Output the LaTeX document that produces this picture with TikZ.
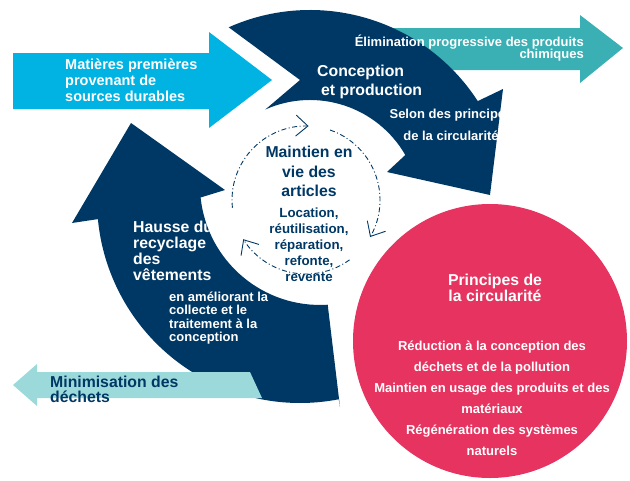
\documentclass[tikz,border=0pt]{standalone}
\usepackage{fontspec}
\setmainfont{Liberation Sans}
\usepackage{tikz}
\usetikzlibrary{arrows.meta}
\definecolor{navy}{HTML}{003865}
\definecolor{skyblue}{HTML}{00B3E3}
\definecolor{elimteal}{HTML}{3AB0B4}
\definecolor{paleteal}{HTML}{9CD9DA}
\definecolor{rose}{HTML}{E6335F}
\newcommand{\fsz}[2]{\fontsize{#1}{#2}\selectfont\bfseries}
\tikzstyle{band}=[fill=navy]
\tikzstyle{lbl}=[inner sep=0pt, text=white]
\tikzstyle{darklbl}=[inner sep=0pt, text=navy]
\tikzstyle{cycarrow}=[navy, line width=0.9pt, dash pattern=on 5pt off 2.5pt on 1pt off 2.5pt, -{Straight Barb[length=12pt,width=21pt,line width=0.9pt]}]

\begin{document}
\begin{tikzpicture}[x=1pt, y=-1pt]
    \useasboundingbox (0,0) rectangle (630,480);

    \fill[skyblue] (13,53) -- (209,53) -- (209,32) -- (272,80) -- (209,128) -- (209,109) -- (13,109) -- cycle;
    \fill[elimteal] (380,28) -- (580,28) -- (580,15) -- (623,48) -- (580,83) -- (580,70) -- (380,70) -- cycle;

    \fill[band] (228.7,27.3) arc[start angle=-114, end angle=-33, radius=200] -- (503,89) -- (490,195) -- (387,172) -- (405.3,155) arc[start angle=-30, end angle=-114, radius=110] -- (300,80) -- cycle;
    \fill[band] (327.7,304.7) arc[start angle=86.3, end angle=174, radius=120] -- (225,190) -- (131,123) -- (72,223) -- (97.9,219.1) arc[start angle=174.6, end angle=79, radius=203] -- (340,407) -- cycle;

    \fill[paleteal] (13,385) -- (37,364) -- (37,372) -- (250,372) -- (262,398) -- (37,398) -- (37,406) -- cycle;
    \node[circle, fill=rose, inner sep=0pt, minimum size=274pt] (circ) at (490,341) {};

    \coordinate (hub) at (306,200);
    \draw[cycarrow] (hub) ++(-186:74) arc[start angle=-186, end angle=-88, radius=74];
    \draw[cycarrow] (hub) ++(-71:74) arc[start angle=-71, end angle=30, radius=74];
    \draw[cycarrow] (hub) ++(54:74) arc[start angle=54, end angle=148, radius=74];

    \node[lbl, anchor=west, align=left, font=\fsz{14.5}{16}] (raw) at (65,80) {Matières premières\\provenant de\\sources durables};
    \node[lbl, anchor=east, align=right, font=\fsz{13}{12.5}] (elim) at (584,48) {Élimination progressive des produits\\chimiques};
    \node[lbl, anchor=west, align=left, font=\fsz{15.8}{19}] (design) at (317,81.5) {Conception\\\hspace{4pt}et production};
    \node[lbl, align=center, font=\fsz{13}{22}] (rule) at (451,125) {Selon des principes\\de la circularité};
    \node[darklbl, align=center, font=\fsz{15.8}{19.5}] (keep) at (309,171.5) {Maintien en\\vie des\\articles};
    \node[darklbl, align=center, font=\fsz{13.3}{16}] (ways) at (309,245) {Location,\\réutilisation,\\réparation,\\refonte,\\revente};
    \node[lbl, anchor=west, align=left, font=\fsz{15.8}{16}] (recyc) at (133,251) {Hausse du\\recyclage\\des\\vêtements};
    \node[lbl, anchor=west, align=left, font=\fsz{13}{13.3}] (collect) at (169,318) {en améliorant la\\collecte et le\\traitement à la\\conception};
    \node[darklbl, anchor=west, align=left, font=\fsz{15.8}{15}] (waste) at (50,389.5) {Minimisation des\\déchets};
    \node[lbl, align=center, font=\fsz{15.8}{16}] (princ) at (495,288) {Principes de\\la circularité};
    \node[lbl, align=center, font=\fsz{13}{21}] (list) at (492,398) {Réduction à la conception des\\déchets et de la pollution\\Maintien en usage des produits et des\\matériaux\\Régénération des systèmes\\naturels};
\end{tikzpicture}
\end{document}
